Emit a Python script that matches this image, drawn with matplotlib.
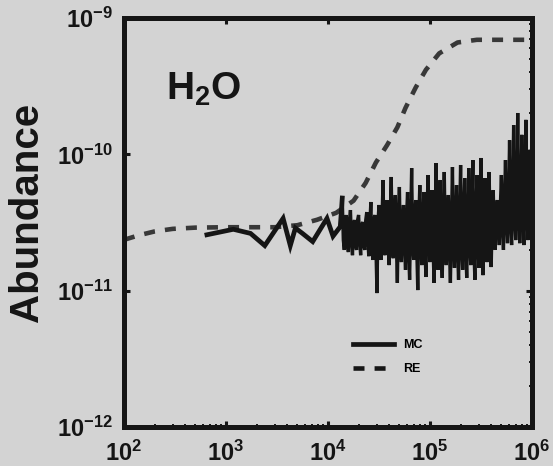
import matplotlib
matplotlib.use("Agg")
import matplotlib.pyplot as plt
from matplotlib.ticker import LogLocator, FixedLocator, FixedFormatter, NullFormatter
from matplotlib.lines import Line2D

# ---- data -------------------------------------------------------------
# Rate-equation (RE) abundance of H2O versus time
re_time = [100, 140, 200, 300, 500, 1000, 3000, 5000, 7800, 12000,
           17800, 23400, 29500, 38000, 47900, 57500, 72400, 91200,
           123000, 186000, 288000, 1000000]
re_abundance = [2.36e-11, 2.55e-11, 2.72e-11, 2.84e-11, 2.90e-11, 2.92e-11,
                2.92e-11, 3.02e-11, 3.31e-11, 3.72e-11, 4.57e-11, 6.17e-11,
                8.71e-11, 1.17e-10, 1.58e-10, 2.19e-10, 3.09e-10, 4.17e-10,
                5.50e-10, 6.61e-10, 6.92e-10, 6.92e-10]

# Monte Carlo (MC) abundance of H2O: sparse early outputs, then dense late ones
mc_time_early = [650, 1180, 1740, 2400, 3630, 4270, 4790, 5620, 7080, 8320,
                 9770, 11200, 13200]
mc_early_e11 = [2.57, 2.82, 2.63, 2.14, 3.39, 2.14, 2.88, 2.63, 2.29, 2.79,
                3.39, 2.51, 2.95]

mc_time_late = [
    13800, 14130, 14450, 14790, 15140, 15490, 15850, 16220, 16600, 16980,
    17380, 17780, 18200, 18620, 19050, 19500, 19950, 20420, 20890, 21380,
    21880, 22390, 22910, 23440, 23990, 24550, 25120, 25700, 26300, 26920,
    27540, 28180, 28840, 29510, 30200, 30900, 31620, 32360, 33110, 33880,
    34670, 35480, 36310, 37150, 38020, 38900, 39810, 40740, 41690, 42660,
    43650, 44670, 45710, 46770, 47860, 48980, 50120, 51290, 52480, 53700,
    54950, 56230, 57540, 58880, 60260, 61660, 63100, 64570, 66070, 67610,
    69180, 70790, 72440, 74130, 75860, 77620, 79430, 81280, 83180, 85110,
    87100, 89130, 91200, 93330, 95500, 97720, 100000, 102300, 104700, 107200,
    109600, 112200, 114800, 117500, 120200, 123000, 125900, 128800, 131800, 134900,
    138000, 141300, 144500, 147900, 151400, 154900, 158500, 162200, 166000, 169800,
    173800, 177800, 182000, 186200, 190500, 195000, 199500, 204200, 208900, 213800,
    218800, 223900, 229100, 234400, 239900, 245500, 251200, 257000, 263000, 269200,
    275400, 281800, 288400, 295100, 302000, 309000, 316200, 323600, 331100, 338800,
    346700, 354800, 363100, 371500, 380200, 389000, 398100, 407400, 416900, 426600,
    436500, 446700, 457100, 467700, 478600, 489800, 501200, 512900, 524800, 537000,
    549500, 562300, 575400, 588800, 602600, 616600, 631000, 645700, 660700, 676100,
    691800, 707900, 724400, 741300, 758600, 776200, 794300, 812800, 831800, 851100,
    871000, 891300, 912000, 933300, 955000, 977200, 1000000]
mc_late_e11 = [
    4.78, 2.35, 1.99, 3.03, 3.59, 2.16, 1.92, 3.19,
    3.90, 2.35, 1.82, 3.03, 3.30, 2.16, 1.99, 3.30,
    3.59, 2.35, 1.82, 3.03, 3.19, 2.16, 1.99, 3.30,
    3.77, 2.35, 1.79, 3.03, 4.47, 2.16, 1.68, 3.30,
    3.59, 2.05, 0.96, 3.19, 4.25, 2.23, 1.68, 3.47,
    6.48, 2.05, 1.82, 3.19, 4.62, 2.23, 1.54, 3.47,
    6.82, 2.05, 1.73, 3.19, 5.03, 2.23, 1.14, 3.47,
    5.76, 2.05, 1.62, 3.19, 4.25, 2.23, 1.42, 3.47,
    5.29, 2.05, 1.20, 3.19, 7.93, 2.23, 1.68, 3.47,
    4.62, 2.05, 1.01, 3.19, 5.95, 2.23, 1.54, 3.47,
    5.29, 2.05, 1.26, 3.19, 7.05, 2.23, 1.62, 3.47,
    5.47, 2.05, 1.14, 3.19, 8.63, 2.23, 1.42, 3.47,
    6.48, 2.05, 1.24, 3.19, 7.42, 2.23, 1.54, 3.47,
    5.03, 2.05, 1.14, 3.19, 8.07, 2.23, 1.47, 3.47,
    5.95, 2.05, 1.20, 3.19, 8.35, 2.23, 1.42, 3.47,
    6.70, 2.05, 1.24, 3.19, 7.93, 2.23, 1.54, 3.47,
    9.08, 2.05, 1.20, 3.19, 7.05, 2.23, 1.47, 3.47,
    9.40, 2.05, 1.30, 3.19, 6.70, 2.23, 1.62, 3.47,
    7.42, 2.35, 1.49, 3.59, 5.47, 2.56, 1.99, 3.90,
    4.62, 3.03, 2.16, 4.25, 7.05, 3.03, 1.99, 4.25,
    9.08, 3.30, 2.23, 4.25, 12.7, 3.30, 2.16, 4.62,
    16.4, 3.59, 2.35, 4.25, 20.1, 3.59, 2.23, 4.62,
    13.9, 3.59, 2.16, 4.25, 17.9, 3.90, 2.35, 4.62,
    10.8, 3.03, 4.62]
UNIT = 1e-11

x_ticks = [1e2, 1e3, 1e4, 1e5, 1e6]
x_tick_labels = [r'$10^{2}$', r'$10^{3}$', r'$10^{4}$', r'$10^{5}$', r'$10^{6}$']
y_ticks = [1e-12, 1e-11, 1e-10, 1e-9]
y_tick_labels = [r'$10^{-12}$', r'$10^{-11}$', r'$10^{-10}$', r'$10^{-9}$']

# ---- style ------------------------------------------------------------
plt.rcParams.update({
    'font.family': ['Liberation Sans', 'DejaVu Sans'],
    'font.weight': 'bold',
    'mathtext.fontset': 'custom',
    'mathtext.rm': 'Liberation Sans:bold',
    'mathtext.it': 'Liberation Sans:bold',
    'mathtext.bf': 'Liberation Sans:bold',
    'mathtext.sf': 'Liberation Sans:bold',
    'mathtext.default': 'rm',
})
BG = '#d3d3d3'
INK = '#151515'
DASH = '#383838'

W, H = 553, 466
fig = plt.figure(figsize=(W / 100, H / 100), dpi=100, facecolor=BG)
ax = fig.add_axes([124 / W, 1 - 427 / H, 408 / W, 409 / H], facecolor=BG)

early_values = [v * UNIT for v in mc_early_e11]
late_values = [v * UNIT for v in mc_late_e11]

ax.plot(re_time, re_abundance, color=DASH, lw=3.3, dashes=(2.4, 2.2),
        dash_capstyle='butt', zorder=2)
# sparse outputs as a heavy line, dense noisy outputs as a finer trace
ax.plot(mc_time_early + mc_time_late[:1], early_values + late_values[:1],
        color=INK, lw=3.4, solid_joinstyle='miter', zorder=3)
ax.plot(mc_time_early[-1:] + mc_time_late, early_values[-1:] + late_values,
        color=INK, lw=2.4, solid_joinstyle='miter', zorder=3)

ax.set_xscale('log')
ax.set_yscale('log')
ax.set_xlim(1e2, 1e6)
ax.set_ylim(1e-12, 1e-9)

ax.xaxis.set_major_locator(FixedLocator(x_ticks))
ax.xaxis.set_major_formatter(FixedFormatter(x_tick_labels))
ax.yaxis.set_major_locator(FixedLocator(y_ticks))
ax.yaxis.set_major_formatter(FixedFormatter(y_tick_labels))
for axis in (ax.xaxis, ax.yaxis):
    axis.set_minor_locator(LogLocator(base=10, subs=range(2, 10), numticks=20))
    axis.set_minor_formatter(NullFormatter())

ax.tick_params(which='both', direction='in', top=True, right=True,
               color=INK, labelcolor=INK)
ax.tick_params(which='major', length=4.5, width=2.2, labelsize=17)
ax.tick_params(which='minor', length=2.2, width=1.4)
ax.tick_params(axis='x', which='major', pad=10)
ax.tick_params(axis='y', which='major', pad=8)

for sp in ax.spines.values():
    sp.set_linewidth(3.6)
    sp.set_color(INK)

fig.text(27 / W, 1 - 212 / H, 'Abundance', rotation=90, fontsize=29,
         fontweight='bold', color=INK, ha='center', va='center')

ax.text((166 - 124) / 408, (427 - 100) / 409, r'H$_2$O', fontsize=28,
        fontweight='bold', color=INK, ha='left', va='baseline',
        transform=ax.transAxes)

handles = [Line2D([], [], color=INK, lw=3.4),
           Line2D([], [], color=INK, lw=3.3, dashes=(2.4, 2.2),
                  dash_capstyle='butt')]
ax.legend(handles, ['MC', 'RE'], loc='upper left',
          bbox_to_anchor=((353 - 124) / 408, (427 - 339) / 409),
          frameon=False, handlelength=3.3, handletextpad=0.7,
          labelspacing=1.0, borderpad=0, borderaxespad=0,
          prop={'weight': 'bold', 'size': 9})

fig.savefig('out.png', dpi=100, facecolor=BG)
